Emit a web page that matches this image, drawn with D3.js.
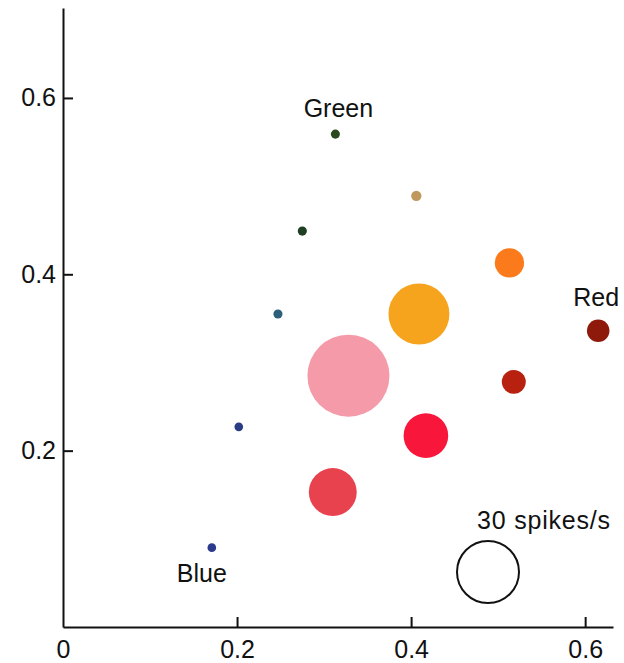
<!DOCTYPE html>
<html>
<head>
<meta charset="utf-8">
<script src="https://cdn.jsdelivr.net/npm/d3@7"></script>
<style>
  html, body { margin: 0; padding: 0; background: #fff; }
  svg { display: block; }
  text { font-family: "Liberation Sans", Arial, Helvetica, sans-serif; fill: #111; }
</style>
</head>
<body>
<svg id="chart" width="624" height="663"></svg>
<script>
// Stimulus positions (x, y) and response firing rate for each colour patch
const stimNames = ["green", "tan", "darkgreen", "teal", "blue1", "blue2",
                   "orange", "amber", "darkred", "pink", "brickred", "red", "coral"];
const xValues   = [0.313, 0.406, 0.275, 0.247, 0.202, 0.171,
                   0.513, 0.409, 0.615, 0.328, 0.518, 0.417, 0.310];
const yValues   = [0.559, 0.489, 0.449, 0.355, 0.227, 0.090,
                   0.413, 0.355, 0.336, 0.285, 0.278, 0.217, 0.153];
const rates     = [4.4, 5.0, 4.4, 4.4, 4.2, 4.2,
                   14.2, 29.5, 10.9, 39.7, 11.6, 21.6, 23.2];
const fills     = ["#2c4a20", "#bf985c", "#1f3f22", "#2b5f7a", "#2a3c82", "#2c3a8c",
                   "#fb7a1c", "#f6a41e", "#8e1a0c", "#f59aa9", "#b8200f", "#f8163a", "#e8424f"];

const xTicks = [0, 0.2, 0.4, 0.6];
const yTicks = [0.2, 0.4, 0.6];
const tickText = ["0", "0.2", "0.4", "0.6"];

// Region labels placed beside the extreme stimuli
const regionLabels = ["Green", "Red", "Blue"];
const regionAt     = [0, 8, 5];       // index of the stimulus each label names
const regionSide   = ["above", "above", "below"];

const legendRate = 30;
const legendText = "30 spikes/s";

const svg = d3.select("#chart");

const x = d3.scaleLinear().domain([0, 0.632]).range([63, 613]);
const y = d3.scaleLinear().domain([0, 0.702]).range([627, 8]);
const r = d3.scaleLinear().domain([0, 30]).range([0, 31]);

const fontSize = 25;

// Axes
const xAxis = svg.append("g")
  .attr("transform", `translate(0,${y(0)})`)
  .call(d3.axisBottom(x).tickValues(xTicks)
    .tickFormat((d, i) => tickText[i])
    .tickSizeInner(-10).tickSizeOuter(0).tickPadding(13));

const yAxis = svg.append("g")
  .attr("transform", `translate(${x(0)},0)`)
  .call(d3.axisLeft(y).tickValues(yTicks)
    .tickFormat(d3.format(".1f"))
    .tickSizeInner(-10).tickSizeOuter(0).tickPadding(7));

[xAxis, yAxis].forEach(g => {
  g.select(".domain").attr("stroke", "#111").attr("stroke-width", 2);
  g.selectAll(".tick line").attr("stroke", "#111").attr("stroke-width", 2);
  g.selectAll(".tick text")
    .attr("font-size", fontSize)
    .attr("font-family", "Liberation Sans, Arial, sans-serif")
    .attr("fill", "#111");
});
// the origin line belongs to the y axis; hide the zero tick mark
xAxis.selectAll(".tick").filter(d => d === 0).select("line").remove();

// Stimulus circles
const data = stimNames.map((n, i) => ({
  name: n, x: xValues[i], y: yValues[i], rate: rates[i], fill: fills[i]
}));

svg.append("g").selectAll("circle")
  .data(data)
  .join("circle")
  .attr("cx", d => x(d.x))
  .attr("cy", d => y(d.y))
  .attr("r", d => r(d.rate))
  .attr("fill", d => d.fill);

// Region labels
svg.append("g").selectAll("text")
  .data(regionLabels)
  .join("text")
  .attr("x", (d, i) => x(xValues[regionAt[i]]) + (i === 2 ? -10 : (i === 1 ? -2 : 3)))
  .attr("y", (d, i) => {
    const cy = y(yValues[regionAt[i]]);
    const rr = r(rates[regionAt[i]]);
    return regionSide[i] === "above" ? cy - rr - 13 : cy + rr + 30;
  })
  .attr("text-anchor", "middle")
  .attr("font-size", fontSize)
  .text(d => d);

// Scale legend
const lx = 488, ly = 572;
svg.append("circle")
  .attr("cx", lx).attr("cy", ly)
  .attr("r", r(legendRate))
  .attr("fill", "none")
  .attr("stroke", "#111")
  .attr("stroke-width", 2);

svg.append("text")
  .attr("x", 477).attr("y", 529)
  .attr("font-size", fontSize)
  .attr("letter-spacing", 0.8)
  .text(legendText);
</script>
</body>
</html>
